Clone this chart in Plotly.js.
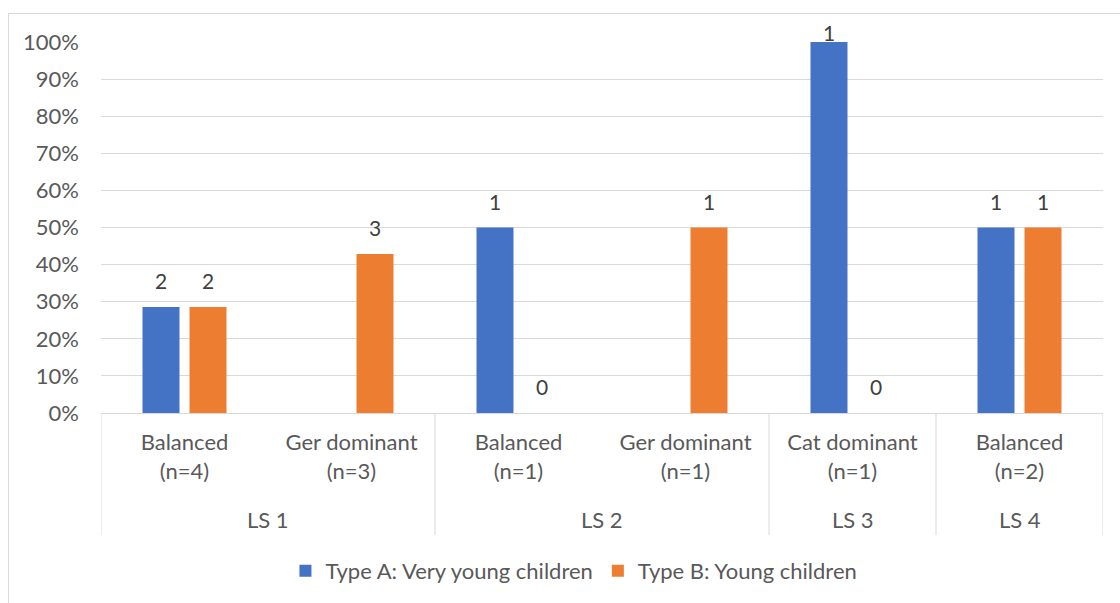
<!DOCTYPE html>
<html>
<head>
<meta charset="utf-8">
<script src="https://cdn.plot.ly/plotly-3.0.1.min.js"></script>
<style>
  html, body { margin: 0; padding: 0; background: #ffffff; overflow: hidden; }
  #chart {
    position: absolute; left: 8px; top: 13px;
    width: 1120px; height: 600px;
    border-left: 1px solid #d9d9d9; border-top: 1px solid #d9d9d9;
  }
</style>
</head>
<body>
<div id="chart"></div>
<script>
// Language-setting groups and the language profile inside each
const groups = ['LS 1', 'LS 1', 'LS 2', 'LS 2', 'LS 3', 'LS 4'];
const profiles = ['Balanced', 'Ger dominant', 'Balanced', 'Ger dominant', 'Cat dominant', 'Balanced'];
const nChildren = [4, 3, 1, 1, 1, 2];

// Number of children of each type per profile (null = no bar)
const seriesNames = ['Type A: Very young children', 'Type B: Young children'];
const countA = [2, null, 1, null, 1, 1];
const countB = [2, 3, 0, 1, 0, 1];
const seriesColors = ['#4472C4', '#ED7D31'];

// Category tick labels
const tickLabels = profiles.map((p, i) => p + '<br>(n=' + nChildren[i] + ')');

// Children per group: share of a bar = count / group total
const groupTotals = {};
groups.forEach((g, i) => { groupTotals[g] = (groupTotals[g] || 0) + nChildren[i]; });
const share = counts => counts.map((c, i) => c === null ? null : c / groupTotals[groups[i]]);
const shareA = share(countA);
const shareB = share(countB);

const FONT = 'Lato, "Open Sans", sans-serif';
const GRID = '#d9d9d9';
const TXT = '#595959';
const FS = 22;

const traces = [countA, countB].map((counts, s) => ({
  type: 'bar',
  name: seriesNames[s],
  x: tickLabels,
  y: s === 0 ? shareA : shareB,
  marker: { color: seriesColors[s] },
  hoverinfo: 'skip'
}));

// Group spans on the category axis (index ranges)
const spans = [];
groups.forEach((g, i) => {
  const last = spans[spans.length - 1];
  if (last && last.name === g) last.end = i; else spans.push({ name: g, start: i, end: i });
});

const shapes = [];
const dividerXs = [spans[0].start - 0.5].concat(spans.map(sp => sp.end + 0.5));
dividerXs.forEach(x => shapes.push({
  type: 'line', xref: 'x', yref: 'paper', x0: x, x1: x, y0: 0, y1: -0.329,
  line: { color: GRID, width: 1 }
}));

const annotations = spans.map(sp => ({
  xref: 'x', yref: 'paper', x: (sp.start + sp.end) / 2, y: -0.288,
  yanchor: 'middle', text: sp.name, showarrow: false,
  font: { family: FONT, size: FS, color: TXT }
}));

// Count labels above each bar; a label at the top of the scale sits tight on its bar
[countA, countB].forEach((counts, s) => {
  const vals = s === 0 ? shareA : shareB;
  counts.forEach((c, i) => {
    if (c === null) return;
    annotations.push({
      xref: 'x', yref: 'y', x: i, y: vals[i], yanchor: 'bottom',
      xshift: s === 0 ? -23.5 : 23.5, yshift: vals[i] >= 0.99 ? -5 : 12,
      text: String(c), showarrow: false,
      font: { family: FONT, size: 21, color: '#404040' }
    });
  });
});

const layout = {
  width: 1120, height: 600,
  margin: { l: 92, r: 26, t: 28, b: 201 },
  paper_bgcolor: '#ffffff', plot_bgcolor: '#ffffff',
  font: { family: FONT, size: FS, color: TXT },
  barmode: 'group', bargap: 0.437, bargroupgap: 0.213,
  xaxis: {
    type: 'category', range: [-0.5, 5.5],
    showline: true, linecolor: GRID, linewidth: 1,
    ticks: '', showgrid: false, zeroline: false,
    tickfont: { family: FONT, size: FS, color: TXT },
    ticklabelstandoff: 10
  },
  yaxis: {
    range: [0, 1], dtick: 0.1, tickformat: '.0%',
    showgrid: true, gridcolor: GRID, gridwidth: 1,
    showline: false, zeroline: false, ticks: '',
    tickfont: { family: FONT, size: FS, color: TXT },
    ticklabelstandoff: 21
  },
  showlegend: true,
  legend: {
    orientation: 'h', xref: 'paper', yref: 'paper',
    x: 0.472, xanchor: 'center', y: -0.426, yanchor: 'middle',
    font: { family: FONT, size: FS, color: TXT },
    traceorder: 'normal'
  },
  shapes: shapes,
  annotations: annotations
};

Plotly.newPlot('chart', traces, layout, { displayModeBar: false, staticPlot: true });
</script>
</body>
</html>
